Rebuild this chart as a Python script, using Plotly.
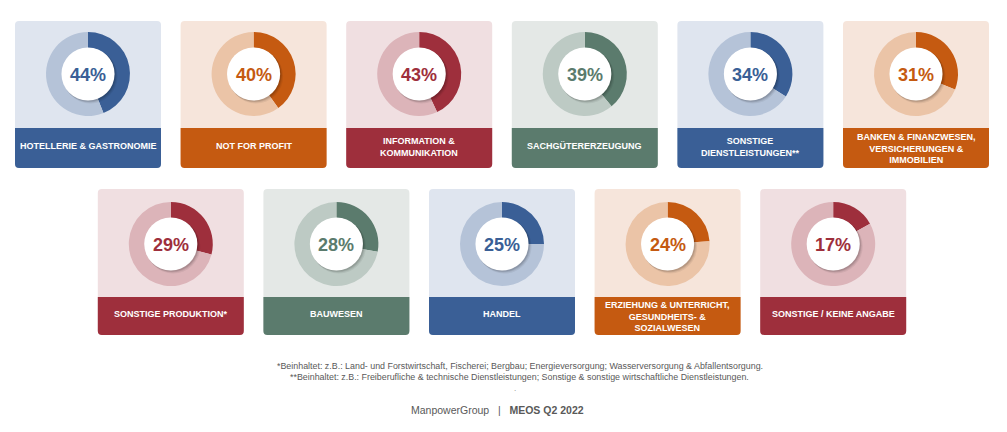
import plotly.graph_objects as go

# ---------------- data ----------------
categories = [
    "HOTELLERIE & GASTRONOMIE",
    "NOT FOR PROFIT",
    "INFORMATION &<br>KOMMUNIKATION",
    "SACHGÜTERERZEUGUNG",
    "SONSTIGE<br>DIENSTLEISTUNGEN**",
    "BANKEN & FINANZWESEN,<br>VERSICHERUNGEN &<br>IMMOBILIEN",
    "SONSTIGE PRODUKTION*",
    "BAUWESEN",
    "HANDEL",
    "ERZIEHUNG & UNTERRICHT,<br>GESUNDHEITS- &<br>SOZIALWESEN",
    "SONSTIGE / KEINE ANGABE",
]
values = [44, 40, 43, 39, 34, 31, 29, 28, 25, 24, 17]
color_keys = ["blue", "orange", "red", "green", "blue", "orange",
              "red", "green", "blue", "orange", "red"]
footnotes = [
    "*Beinhaltet: z.B.: Land- und Forstwirtschaft, Fischerei; Bergbau; Energieversorgung; Wasserversorgung & Abfallentsorgung.",
    "**Beinhaltet: z.B.: Freiberufliche & technische Dienstleistungen; Sonstige & sonstige wirtschaftliche Dienstleistungen.",
]
source_text = "ManpowerGroup   |   <b>MEOS Q2 2022</b>"

# ---------------- styles ----------------
palette = {
    "blue":   {"main": "#3A5F96", "light": "#B5C3D8", "bg": "#DFE5EF"},
    "orange": {"main": "#C55A11", "light": "#EBC4A7", "bg": "#F6E5DB"},
    "red":    {"main": "#9E2F3C", "light": "#DCB4B9", "bg": "#F0DFE1"},
    "green":  {"main": "#5B7B6D", "light": "#BDCAC4", "bg": "#E4E8E6"},
}

W, H = 1007, 432
FONT = "Liberation Sans, Arial, sans-serif"

card_w = 146
spacing = 165.6
row_defs = [
    {"x0": 15.0, "top": 21, "bottom": 168, "band_top": 128, "cy": 74, "n": 6},
    {"x0": 97.8, "top": 189, "bottom": 335, "band_top": 297, "cy": 244, "n": 5},
]
R_OUT = 42
HOLE = 0.62


def px(x):
    return x / W


def py(y):
    return 1 - y / H


def rounded_path(x0, y0, x1, y1, r, top=True, bottom=True):
    rx, ry = r / W, r / H
    X0, X1 = px(x0), px(x1)
    Y0, Y1 = py(y0), py(y1)  # Y0 is top (larger), Y1 bottom
    p = []
    if top:
        p.append(f"M{X0},{Y0 - ry}")
        p.append(f"Q{X0},{Y0} {X0 + rx},{Y0}")
        p.append(f"L{X1 - rx},{Y0}")
        p.append(f"Q{X1},{Y0} {X1},{Y0 - ry}")
    else:
        p.append(f"M{X0},{Y0}")
        p.append(f"L{X1},{Y0}")
    if bottom:
        p.append(f"L{X1},{Y1 + ry}")
        p.append(f"Q{X1},{Y1} {X1 - rx},{Y1}")
        p.append(f"L{X0 + rx},{Y1}")
        p.append(f"Q{X0},{Y1} {X0},{Y1 + ry}")
    else:
        p.append(f"L{X1},{Y1}")
        p.append(f"L{X0},{Y1}")
    p.append("Z")
    return " ".join(p)


fig = go.Figure()
shapes = []
annotations = []

idx = 0
for row in row_defs:
    for j in range(row["n"]):
        cat, val, ck = categories[idx], values[idx], color_keys[idx]
        pal = palette[ck]
        x0 = row["x0"] + j * spacing
        x1 = x0 + card_w
        cx = (x0 + x1) / 2
        cy = row["cy"]
        # card background
        shapes.append(dict(type="path", xref="paper", yref="paper", layer="below",
                           path=rounded_path(x0, row["top"], x1, row["bottom"], 4),
                           fillcolor=pal["bg"], line=dict(width=0)))
        # band
        shapes.append(dict(type="path", xref="paper", yref="paper", layer="below",
                           path=rounded_path(x0, row["band_top"], x1, row["bottom"], 4, top=False),
                           fillcolor=pal["main"], line=dict(width=0)))
        # donut
        fig.add_trace(go.Pie(
            values=[val, 100 - val],
            sort=False, direction="clockwise", rotation=0,
            hole=HOLE, textinfo="none", hoverinfo="skip", showlegend=False,
            marker=dict(colors=[pal["main"], pal["light"]], line=dict(width=0)),
            domain=dict(x=[px(cx - R_OUT), px(cx + R_OUT)],
                        y=[py(cy + R_OUT), py(cy - R_OUT)]),
        ))
        # white circle with soft shadow
        rin = R_OUT * HOLE + 0.5
        for k, (off, op) in enumerate([(3.0, 0.06), (2.0, 0.08), (1.2, 0.10)]):
            shapes.append(dict(type="circle", xref="paper", yref="paper", layer="above",
                               x0=px(cx - rin + off * 0.6), x1=px(cx + rin + off),
                               y0=py(cy + rin + off), y1=py(cy - rin + off * 0.6),
                               fillcolor=f"rgba(0,0,0,{op})", line=dict(width=0)))
        shapes.append(dict(type="circle", xref="paper", yref="paper", layer="above",
                           x0=px(cx - rin), x1=px(cx + rin),
                           y0=py(cy + rin), y1=py(cy - rin),
                           fillcolor="white", line=dict(width=0)))
        # percent label
        annotations.append(dict(x=px(cx), y=py(cy + 0.5), xref="paper", yref="paper",
                                text=f"<b>{val}%</b>", showarrow=False,
                                xanchor="center", yanchor="middle",
                                font=dict(family=FONT, size=18, color=pal["main"])))
        # band label
        nlines = cat.count("<br>") + 1
        band_c = (row["band_top"] + row["bottom"]) / 2
        ty = band_c - 2 + (nlines - 1) * 1.2
        annotations.append(dict(x=px(cx), y=py(ty), xref="paper", yref="paper",
                                text=f"<b>{cat}</b>", showarrow=False,
                                xanchor="center", yanchor="middle", align="center",
                                font=dict(family=FONT, size=9, color="white")))
        idx += 1

# footnotes
for k, t in enumerate(footnotes):
    annotations.append(dict(x=px(519.5), y=py(365.5 + k * 11), xref="paper", yref="paper",
                            text=t, showarrow=False, xanchor="center", yanchor="middle",
                            font=dict(family=FONT, size=8.9, color="#595959")))
annotations.append(dict(x=px(515), y=py(388), xref="paper", yref="paper",
                        text=".", showarrow=False, xanchor="center", yanchor="middle",
                        font=dict(family=FONT, size=8, color="#7F7F7F")))
annotations.append(dict(x=px(497.5), y=py(410), xref="paper", yref="paper",
                        text=source_text, showarrow=False, xanchor="center", yanchor="middle",
                        font=dict(family=FONT, size=10.5, color="#595959")))

fig.update_layout(
    width=W, height=H,
    margin=dict(l=0, r=0, t=0, b=0),
    paper_bgcolor="white", plot_bgcolor="white",
    shapes=shapes, annotations=annotations,
    xaxis=dict(visible=False), yaxis=dict(visible=False),
)

fig.write_html("out.html", config={"displayModeBar": False},
               post_script="document.body.style.margin='0px';document.body.style.overflow='hidden';")
